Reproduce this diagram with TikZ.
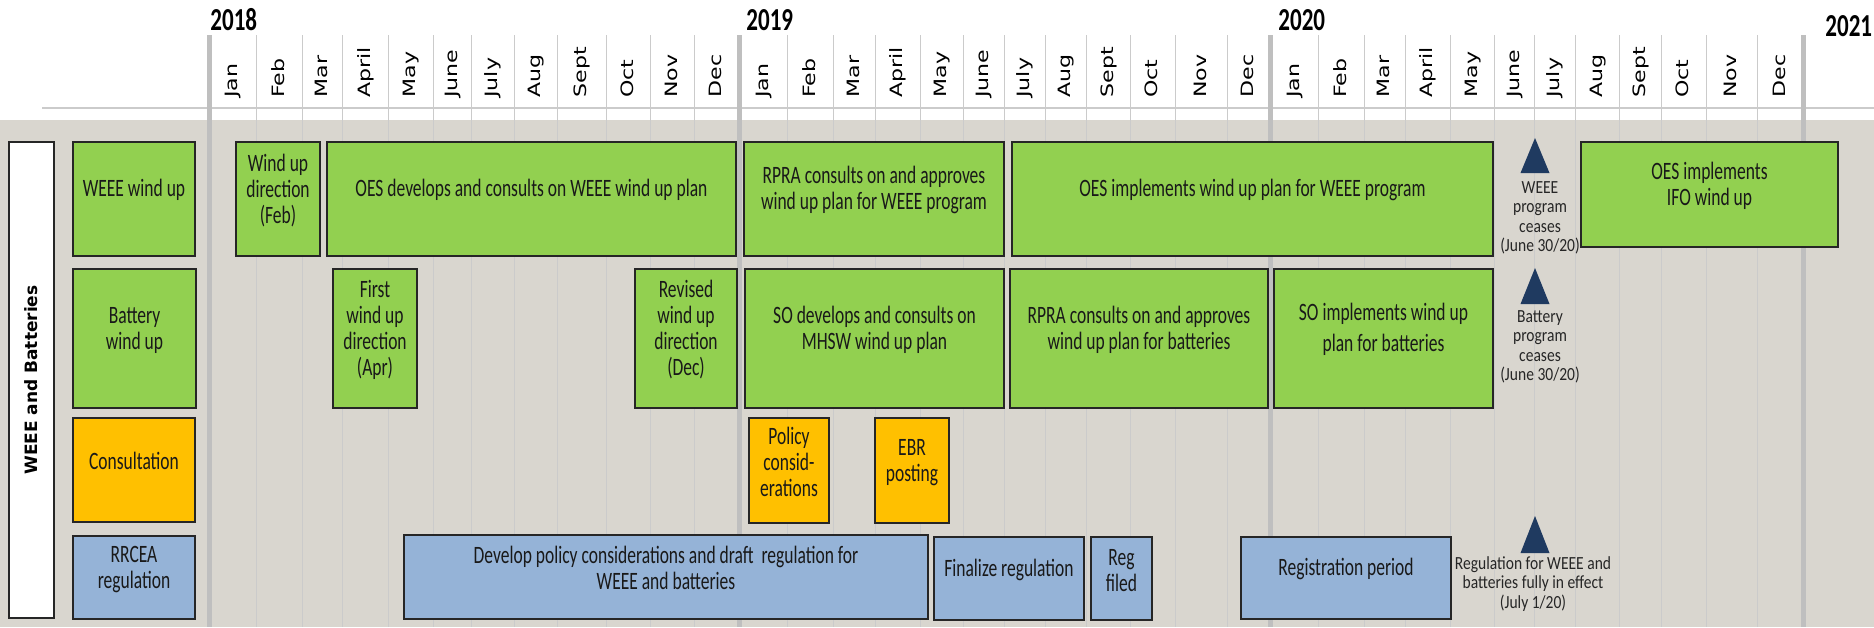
\documentclass[tikz,border=0pt]{standalone}
\usepackage{fontspec}
\setmainfont{Carlito}[FakeStretch=0.70]
\newfontfamily\yearfont{Carlito}[FakeStretch=0.72]
\newfontfamily\notefont{Carlito}[FakeStretch=0.84]
\newfontfamily\monthfont{DejaVu Sans}[FakeStretch=1.3]
\newfontfamily\sidefont{DejaVu Sans}
\usetikzlibrary{fit}

\definecolor{bandgray}{HTML}{D9D6CF}
\definecolor{gridgray}{HTML}{CBCBCB}
\definecolor{yeargray}{HTML}{BFBFBF}
\definecolor{taskgreen}{HTML}{92D050}
\definecolor{taskorange}{HTML}{FFC000}
\definecolor{taskblue}{HTML}{95B3D7}
\definecolor{edgedark}{HTML}{262626}
\definecolor{navy}{HTML}{1F3A60}

\begin{document}
\begin{tikzpicture}[
  x=0.5pt, y=-0.5pt,
  task/.style={draw=edgedark, line width=1pt, inner sep=0pt, align=center,
               font=\fontsize{12.5pt}{13pt}\selectfont, text=black!90},
  wtask/.style={task, fill=taskgreen},
  ctask/.style={task, fill=taskorange},
  rtask/.style={task, fill=taskblue},
  month/.style={rotate=90, anchor=west, inner sep=0pt,
                font=\monthfont\fontsize{8.5pt}{8.5pt}\selectfont,
                text height=0.75em, text depth=0.25em},
  year/.style={anchor=base west, inner sep=0pt,
               font=\yearfont\bfseries\fontsize{16pt}{16pt}\selectfont},
  note/.style={anchor=north, inner sep=0pt, align=center, text=black!85,
               font=\notefont\fontsize{9.25pt}{9.75pt}\selectfont},
  monthline/.style={draw=gridgray, line width=0.5pt},
  yearline/.style={draw=yeargray, line width=2.5pt},
  milestone/.style={fill=navy}
]
  % page and shaded band
  \fill[white] (0,0) rectangle (1874,627);
  \useasboundingbox (0,0) rectangle (1874,627);
  \fill[bandgray] (0,120) rectangle (1874,627);
  \draw[gridgray, line width=1pt] (42,108) -- (1874,108);

  % month grid
  \foreach \x in {256,302,342,388,433,471,514,557,606,650,694,
                  787,833,875,920,963,1004,1045,1086,1130,1175,1227,
                  1318,1364,1405,1450,1494,1534,1575,1619,1661,1706,1757}
    \draw[monthline] (\x,35) -- (\x,627);
  \foreach \x in {209,739,1270,1803}
    \draw[yearline] (\x,35) -- (\x,627);

  % header
  \node[year] (y2018) at (210,30) {2018};
  \node[year] (y2019) at (746,30) {2019};
  \node[year] (y2020) at (1278,30) {2020};
  \node[year] (y2021) at (1825,36) {2021};
  \foreach \c/\m [count=\i] in {232.5/Jan,279/Feb,322/Mar,365/April,410.5/May,
      452/June,492.5/July,535.5/Aug,581.5/Sept,628/Oct,672/Nov,716.5/Dec,
      763/Jan,810/Feb,854/Mar,897.5/April,941.5/May,983.5/June,1024.5/July,
      1065.5/Aug,1108/Sept,1152.5/Oct,1201/Nov,1248.5/Dec,
      1294/Jan,1341/Feb,1384.5/Mar,1427.5/April,1472/May,1514/June,
      1554.5/July,1597/Aug,1640/Sept,1683.5/Oct,1731.5/Nov,1780/Dec}
    \node[month] (mon\i) at (\c,98) {\m};

  % group label
  \node[draw=edgedark, line width=1pt, fill=white, inner sep=0pt,
        fit={(9,142) (54,618)}] (side) {};
  \node[rotate=90, font=\sidefont\bfseries\fontsize{8.5pt}{9pt}\selectfont]
    (sidetext) at (side.center) {WEEE and Batteries};

  % WEEE wind up
  \node[wtask, fit={(73,142) (195,256)}] (weee) {WEEE wind up};
  \node[wtask, fit={(236,142) (320,256)}] (wdir) {Wind up\\direction\\(Feb)};
  \node[wtask, fit={(327,142) (736,256)}] (oesdev)
    {OES develops and consults on WEEE wind up plan};
  \node[wtask, fit={(744,142) (1004,256)}] (rpraw)
    {RPRA consults on and approves\\wind up plan for WEEE program};
  \node[wtask, fit={(1012,142) (1493,256)}] (oesimp)
    {OES implements wind up plan for WEEE program};
  \node[wtask, fit={(1581,142) (1838,247)}] (ifo) {OES implements\\IFO wind up};

  % Battery wind up
  \node[wtask, fit={(73,269) (196,408)}] (batt) {Battery\\wind up};
  \node[wtask, fit={(333,269) (417,408)}] (firstdir)
    {First\\wind up\\direction\\(Apr)};
  \node[wtask, fit={(635,269) (737,408)}] (revdir)
    {Revised\\wind up\\direction\\(Dec)};
  \node[wtask, fit={(745,269) (1004,408)}] (sodev)
    {SO develops and consults on\\MHSW wind up plan};
  \node[wtask, fit={(1010,269) (1268,408)}] (rprab)
    {RPRA consults on and approves\\wind up plan for batteries};
  \node[wtask, fit={(1274,269) (1493,408)}] (soimp)
    {SO implements wind up\\[2.5pt]plan for batteries};

  % Consultation
  \node[ctask, fit={(73,418) (195,522)}] (consult) {Consultation};
  \node[ctask, fit={(749,418) (829,523)}] (policy) {Policy\\consid-\\erations};
  \node[ctask, fit={(875,418) (949,523)}] (ebr) {EBR\\posting};

  % RRCEA regulation
  \node[rtask, fit={(73,536) (195,619)}] (rrcea) {RRCEA\\regulation};
  \node[rtask, fit={(404,535) (928,619)}] (draft)
    {Develop policy considerations and draft~ regulation for\\WEEE and batteries};
  \node[rtask, fit={(934,537) (1084,620)}] (final) {Finalize regulation};
  \node[rtask, fit={(1091,537) (1152,620)}] (filed) {Reg\\filed};
  \node[rtask, fit={(1241,537) (1451,619)}] (regper) {Registration period};

  % milestones
  \foreach \ya/\yb in {138/173, 268/304, 516/553}
    \fill[milestone] (1520.5,\yb) -- (1535,\ya) -- (1549.5,\yb) -- cycle;
  \node[note] (weeeend) at (1540,181) {WEEE\\program\\ceases\\(June 30/20)};
  \node[note] (battend) at (1540,310) {Battery\\program\\ceases\\(June 30/20)};
  \node[note] (regend) at (1533,556)
    {Regulation for WEEE and\\batteries fully in effect\\(July 1/20)};
\end{tikzpicture}
\end{document}
